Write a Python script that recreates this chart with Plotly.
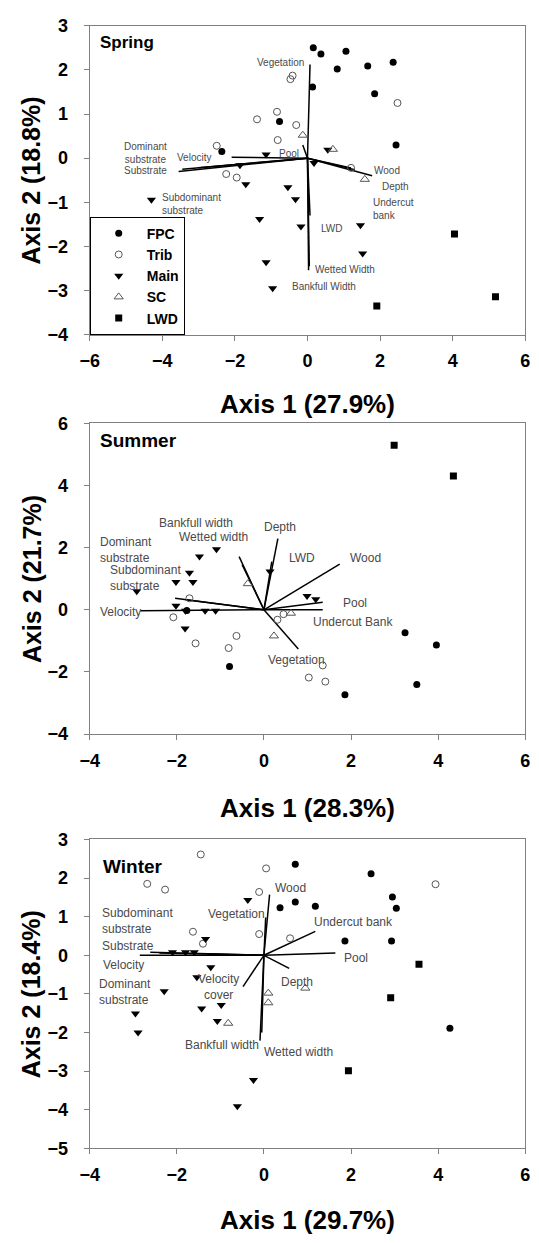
import plotly.graph_objects as go

# ---------------- data ----------------
groups = ["FPC", "Trib", "Main", "SC", "LWD"]

# Spring
spring_fpc_x = [0.16, 0.37, 1.06, 0.82, 1.66, 2.36, 0.14, 1.85, 2.44, -0.77, -2.36]
spring_fpc_y = [2.50, 2.36, 2.42, 2.02, 2.09, 2.17, 1.61, 1.46, 0.30, 0.83, 0.15]
spring_trib_x = [-0.41, -0.47, -1.39, -0.84, -0.31, -0.82, -2.50, -2.24, -1.95, 2.48, 1.20]
spring_trib_y = [1.87, 1.79, 0.88, 1.05, 0.75, 0.41, 0.28, -0.36, -0.44, 1.25, -0.22]
spring_main_x = [-1.14, -1.86, -1.70, -0.54, -0.33, -4.30, -1.32, -0.18, -1.14, -0.96, 0.56, 0.18, 1.46, 1.52]
spring_main_y = [0.08, -0.16, -0.59, -0.66, -0.93, -0.94, -1.38, -1.55, -2.36, -2.95, 0.19, -0.11, -1.52, -2.16]
spring_sc_x = [-0.13, 0.70, 1.58]
spring_sc_y = [0.52, 0.20, -0.48]
spring_lwd_x = [4.05, 5.18, 1.91]
spring_lwd_y = [-1.72, -3.14, -3.35]

spring_vec_names = ["Vegetation", "Wetted Width", "Bankfull Width", "LWD", "Pool", "Velocity",
                    "Substrate", "Dominant substrate", "Subdominant substrate", "Wood", "Depth", "Undercut bank"]
spring_vec_x = [0.07, 0.03, 0.05, 0.07, -0.13, -2.09, -3.55, -3.45, -3.0, 1.78, 1.30, 1.20]
spring_vec_y = [2.12, -2.54, -2.45, -1.30, 0.30, 0.02, -0.30, -0.25, -0.22, -0.40, -0.26, -0.22]

# Summer
summer_fpc_x = [-0.79, -1.77, 3.24, 3.96, 3.51, 1.86]
summer_fpc_y = [-1.82, -0.02, -0.74, -1.13, -2.40, -2.73]
summer_trib_x = [-1.71, -2.08, -1.57, -0.63, -0.81, 0.31, 0.45, 1.35, 1.03, 1.41]
summer_trib_y = [0.37, -0.24, -1.08, -0.84, -1.23, -0.32, -0.14, -1.79, -2.18, -2.31]
summer_main_x = [-1.09, -1.48, -1.71, -1.63, -2.02, -2.92, -2.02, -1.80, -1.35, -1.11, -1.81, 0.14, 0.99, 1.19]
summer_main_y = [1.95, 1.71, 1.19, 0.89, 0.89, 0.60, 0.13, -0.03, -0.03, -0.03, -0.60, 1.23, 0.44, 0.34]
summer_sc_x = [-0.37, 0.23, 0.62]
summer_sc_y = [0.84, -0.84, -0.11]
summer_lwd_x = [2.99, 4.35]
summer_lwd_y = [5.29, 4.30]

summer_vec_names = ["Depth", "LWD", "Wood", "Pool", "Undercut Bank", "Vegetation", "Bankfull width",
                    "Wetted width", "Dominant substrate", "Subdominant substrate", "Velocity"]
summer_vec_x = [0.32, 0.18, 1.74, 1.35, 1.35, 0.79, -0.57, -0.50, -2.04, -1.80, -2.84]
summer_vec_y = [2.29, 1.55, 1.47, 0.24, 0.00, -1.26, 1.71, 1.45, 0.37, 0.32, -0.03]

# Winter
winter_fpc_x = [0.72, 0.37, 0.72, 1.18, 2.46, 2.95, 3.04, 1.86, 2.93, 4.27]
winter_fpc_y = [2.36, 1.23, 1.38, 1.27, 2.11, 1.51, 1.22, 0.37, 0.37, -1.89]
winter_trib_x = [-1.45, -2.68, -2.27, 0.05, -0.11, -1.63, -1.40, -0.11, 0.60, 3.94]
winter_trib_y = [2.61, 1.85, 1.70, 2.25, 1.64, 0.61, 0.30, 0.55, 0.44, 1.84]
winter_main_x = [-0.37, -1.34, -2.10, -1.80, -1.60, -1.22, -1.54, -2.29, -0.98, -1.43, -2.95, -1.07, -2.89, -0.24, -0.61]
winter_main_y = [1.43, 0.42, 0.08, 0.08, 0.08, -0.31, -0.57, -0.93, -1.29, -1.38, -1.51, -1.70, -2.00, -3.23, -3.91]
winter_sc_x = [0.10, 0.10, -0.82, 0.95]
winter_sc_y = [-0.98, -1.23, -1.76, -0.85]
winter_lwd_x = [3.56, 2.91, 1.94]
winter_lwd_y = [-0.23, -1.10, -2.99]

winter_vec_names = ["Wood", "Vegetation", "Undercut bank", "Pool", "Depth", "Velocity cover",
                    "Bankfull width", "Wetted width", "Velocity", "Substrate", "Subdominant substrate",
                    "Dominant substrate"]
winter_vec_x = [0.13, 0.04, 1.18, 1.64, 0.58, -0.48, -0.09, -0.05, -2.85, -2.61, -2.40, -1.30]
winter_vec_y = [1.57, 0.98, 0.62, 0.06, -0.34, -0.81, -2.21, -2.00, 0.00, 0.08, 0.06, 0.03]

# vector label placement (text, x, y, anchor)
spring_labels = [
    ("Vegetation", -0.74, 2.16, "center"),
    ("Dominant<br>substrate", -4.46, 0.12, "center"),
    ("Substrate", -4.46, -0.29, "center"),
    ("Velocity", -3.13, 0.01, "center"),
    ("Subdominant<br>substrate", -4.05, -1.05, "left"),
    ("Pool", -0.51, 0.11, "center"),
    ("Wood", 2.20, -0.28, "center"),
    ("Depth", 2.43, -0.65, "center"),
    ("Undercut<br>bank", 1.76, -1.15, "left"),
    ("LWD", 0.65, -1.59, "center"),
    ("Wetted Width", 0.16, -2.52, "left"),
    ("Bankfull Width", -0.47, -2.91, "left"),
]
summer_labels = [
    ("Depth", 0.36, 2.66, "center"),
    ("LWD", 0.52, 1.65, "left"),
    ("Wood", 1.92, 1.65, "left"),
    ("Pool", 1.76, 0.23, "left"),
    ("Undercut Bank", 1.09, -0.40, "left"),
    ("Vegetation", 0.04, -1.61, "left"),
    ("Bankfull width", -2.45, 2.79, "left"),
    ("Wetted width", -1.99, 2.34, "left"),
    ("Dominant<br>substrate", -3.80, 1.92, "left"),
    ("Subdominant<br>substrate", -3.59, 1.03, "left"),
    ("Velocity", -3.82, -0.07, "left"),
]
winter_labels = [
    ("Wood", 0.20, 1.74, "left"),
    ("Vegetation", -1.34, 1.06, "left"),
    ("Undercut bank", 1.10, 0.85, "left"),
    ("Pool", 1.79, -0.08, "left"),
    ("Depth", 0.34, -0.68, "left"),
    ("Velocity<br>cover", -1.05, -0.82, "center"),
    ("Bankfull width", -1.86, -2.32, "left"),
    ("Wetted width", -0.04, -2.51, "left"),
    ("Subdominant<br>substrate", -3.77, 0.88, "left"),
    ("Substrate", -3.77, 0.25, "left"),
    ("Velocity", -3.74, -0.24, "left"),
    ("Dominant<br>substrate", -3.84, -0.94, "left"),
]

seasons = [
    dict(name="Spring", xr=[-6, 6], yr=[-4, 3], xt="Axis 1 (27.9%)", yt="Axis 2 (18.8%)",
         pts=[(spring_fpc_x, spring_fpc_y), (spring_trib_x, spring_trib_y), (spring_main_x, spring_main_y),
              (spring_sc_x, spring_sc_y), (spring_lwd_x, spring_lwd_y)],
         vx=spring_vec_x, vy=spring_vec_y, labels=spring_labels),
    dict(name="Summer", xr=[-4, 6], yr=[-4, 6], xt="Axis 1 (28.3%)", yt="Axis 2 (21.7%)",
         pts=[(summer_fpc_x, summer_fpc_y), (summer_trib_x, summer_trib_y), (summer_main_x, summer_main_y),
              (summer_sc_x, summer_sc_y), (summer_lwd_x, summer_lwd_y)],
         vx=summer_vec_x, vy=summer_vec_y, labels=summer_labels),
    dict(name="Winter", xr=[-4, 6], yr=[-5, 3], xt="Axis 1 (29.7%)", yt="Axis 2 (18.4%)",
         pts=[(winter_fpc_x, winter_fpc_y), (winter_trib_x, winter_trib_y), (winter_main_x, winter_main_y),
              (winter_sc_x, winter_sc_y), (winter_lwd_x, winter_lwd_y)],
         vx=winter_vec_x, vy=winter_vec_y, labels=winter_labels),
]

# ---------------- layout geometry ----------------
W, H = 539, 1243
plot_left, plot_right = 82, 530
panels_px = [(16, 330), (420, 736), (843, 1157)]   # top, bottom in px
xtitle_px = [400, 811, 1230]
label_font = [10, 12, 12]
title_font = [17, 19, 19]
title_pos = [(0.02, 0.947), (0.02, 0.943), (0.025, 0.914)]

marker_styles = [
    dict(symbol="circle", size=7, color="black"),
    dict(symbol="circle-open", size=7, color="#555", line=dict(width=1, color="#555")),
    dict(symbol="triangle-down", size=8, color="black"),
    dict(symbol="triangle-up-open", size=8, color="#555", line=dict(width=1, color="#555")),
    dict(symbol="square", size=7, color="black"),
]

FONT = "Arial, Liberation Sans, sans-serif"

fig = go.Figure()
annotations = []
layout_axes = {}

for i, s in enumerate(seasons):
    n = "" if i == 0 else str(i + 1)
    xa, ya = "x" + n, "y" + n
    top, bot = panels_px[i]
    # vectors
    lx, ly = [], []
    for vx, vy in zip(s["vx"], s["vy"]):
        lx += [0, vx, None]
        ly += [0, vy, None]
    fig.add_trace(go.Scatter(x=lx, y=ly, mode="lines", line=dict(color="black", width=1.5),
                             showlegend=False, hoverinfo="skip", xaxis=xa, yaxis=ya))
    # points
    for g, (px, py), ms in zip(groups, s["pts"], marker_styles):
        fig.add_trace(go.Scatter(x=px, y=py, mode="markers", name="<b>%s</b>" % g, marker=ms,
                                 showlegend=(i == 0), xaxis=xa, yaxis=ya))
    # vector labels
    for txt, tx, ty, anc in s["labels"]:
        annotations.append(dict(text=txt, x=tx, y=ty, xref=xa, yref=ya, showarrow=False,
                                xanchor=anc, yanchor="middle", align=anc,
                                font=dict(family=FONT, size=label_font[i], color="#4a4a4a")))
    # season title
    annotations.append(dict(text="<b>%s</b>" % s["name"], x=title_pos[i][0], y=title_pos[i][1],
                            xref=xa + " domain", yref=ya + " domain", showarrow=False,
                            xanchor="left", yanchor="middle",
                            font=dict(family=FONT, size=title_font[i], color="black")))
    # axis titles
    annotations.append(dict(text="<b>%s</b>" % s["xt"], x=(plot_left + plot_right) / 2 / W,
                            y=1 - xtitle_px[i] / H, xref="paper", yref="paper", showarrow=False,
                            xanchor="center", yanchor="middle",
                            font=dict(family=FONT, size=26, color="black")))
    annotations.append(dict(text="<b>%s</b>" % s["yt"], x=22 / W, y=1 - (top + bot) / 2 / H,
                            xref="paper", yref="paper", showarrow=False, textangle=-90,
                            xanchor="center", yanchor="middle",
                            font=dict(family=FONT, size=25, color="black")))
    axis_common = dict(showgrid=False, zeroline=False, showline=True, mirror=True,
                       linecolor="#808080", linewidth=1, ticks="outside", ticklen=5,
                       tickcolor="#808080", tickfont=dict(family=FONT, size=18, color="black"),
                       tickprefix="<b>", ticksuffix="</b>")
    layout_axes["xaxis" + n] = dict(axis_common, range=s["xr"], anchor=ya, dtick=2,
                                    domain=[plot_left / W, plot_right / W], ticklabelstandoff=5)
    layout_axes["yaxis" + n] = dict(axis_common, range=s["yr"], anchor=xa, dtick=1 if i != 1 else 2,
                                    domain=[1 - bot / H, 1 - top / H], ticklabelstandoff=12)

fig.update_layout(
    width=W, height=H, margin=dict(l=0, r=0, t=0, b=0),
    plot_bgcolor="white", paper_bgcolor="white",
    font=dict(family=FONT),
    annotations=annotations,
    hovermode=False,
    legend=dict(x=plot_left / W, y=1 - panels_px[0][1] / H, xanchor="left", yanchor="bottom",
                bordercolor="black", borderwidth=1, bgcolor="white", tracegroupgap=0,
                font=dict(family=FONT, size=14, color="black"), itemwidth=46),
    **layout_axes,
)

fig.write_html("out.html", config={"displayModeBar": False},
               post_script="document.body.style.margin='0';document.body.style.overflow='hidden';")
